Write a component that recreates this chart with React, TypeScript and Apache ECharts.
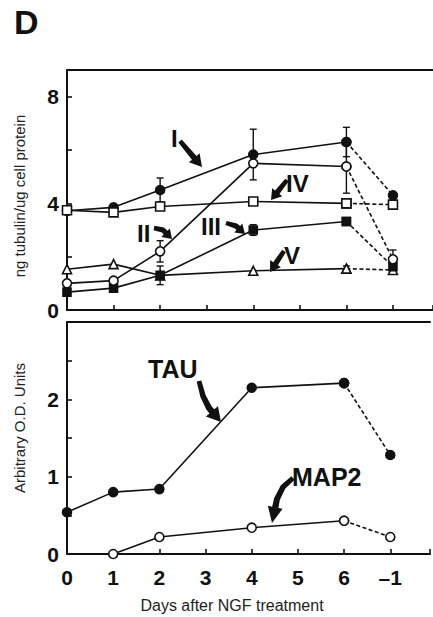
import React, { useEffect, useRef } from "react";
import * as echarts from "echarts";

// ---- data ----
const xTickLabels = ["0", "1", "2", "3", "4", "5", "6", "–1"];
const days = [0, 1, 2, 4, 6];
const withdrawPos = 7; // "-1" position on the axis

// top panel: ng tubulin / ug cell protein
const tubI = [3.72, 3.85, 4.5, 5.83, 6.3];
const tubIW = 4.3;
const tubIErr = [0, 0, 0.45, 0.95, 0.55];
const tubII = [1.0, 1.1, 2.2, 5.5, 5.38];
const tubIIW = 1.9;
const tubIIErr = [0, 0, 0.4, 0, 1.0];
const tubIIWErr = 0.35;
const tubIII = [0.67, 0.82, 1.3, 3.0, 3.32];
const tubIIIW = 1.62;
const tubIIIErr = [0, 0, 0.35, 0.2, 0.12];
const tubIV = [3.74, 3.66, 3.88, 4.07, 4.0];
const tubIVW = 3.95;
const tubV = [1.53, 1.72, 1.3, 1.47, 1.55];
const tubVW = 1.5;
const tubVErr = [0, 0, 0, 0, 0.1];

// bottom panel: arbitrary O.D. units
const tau = [0.54, 0.8, 0.84, 2.15, 2.21];
const tauW = 1.28;
const map2 = [null, 0, 0.22, 0.34, 0.43];
const map2W = 0.22;

const INK = "#111";
const FONT = "Liberation Sans, Arial, Helvetica, sans-serif";
const X_MAX = 7.86;

function arrowShape(pts: number[][], w0: number, w1: number, hl: number, hw: number): number[][] {
  const cum = [0];
  let L = 0;
  for (let i = 1; i < pts.length; i++) {
    L += Math.hypot(pts[i][0] - pts[i - 1][0], pts[i][1] - pts[i - 1][1]);
    cum.push(L);
  }
  const baseLen = L - hl;
  const shaft: { p: number[]; s: number }[] = [];
  for (let i = 0; i < pts.length; i++) if (cum[i] < baseLen) shaft.push({ p: pts[i], s: cum[i] });
  let k = 0;
  while (k < pts.length - 2 && cum[k + 1] < baseLen) k++;
  const t = (baseLen - cum[k]) / (cum[k + 1] - cum[k]);
  const base = [pts[k][0] + (pts[k + 1][0] - pts[k][0]) * t, pts[k][1] + (pts[k + 1][1] - pts[k][1]) * t];
  shaft.push({ p: base, s: baseLen });
  const left: number[][] = [];
  const right: number[][] = [];
  for (let j = 0; j < shaft.length; j++) {
    const a = shaft[Math.max(0, j - 1)].p;
    const b = shaft[Math.min(shaft.length - 1, j + 1)].p;
    let dx = b[0] - a[0];
    let dy = b[1] - a[1];
    const d = Math.hypot(dx, dy) || 1;
    dx /= d;
    dy /= d;
    const w = w0 + (w1 - w0) * (shaft[j].s / baseLen);
    const p = shaft[j].p;
    left.push([p[0] - dy * w, p[1] + dx * w]);
    right.push([p[0] + dy * w, p[1] - dx * w]);
  }
  const tip = pts[pts.length - 1];
  let hx = tip[0] - base[0];
  let hy = tip[1] - base[1];
  const hd = Math.hypot(hx, hy) || 1;
  hx /= hd;
  hy /= hd;
  return [
    ...left,
    [base[0] - hy * hw, base[1] + hx * hw],
    tip,
    [base[0] + hy * hw, base[1] - hx * hw],
    ...right.reverse(),
  ];
}

function solid(vals: (number | null)[]) {
  return days.map((d, i) => [d, vals[i]]);
}

function lineSeries(
  vals: (number | null)[],
  wVal: number,
  symbol: string,
  filled: boolean,
  axis: number,
  size = 9,
  z = 4
) {
  const itemStyle = {
    color: filled ? INK : "#fff",
    borderColor: INK,
    borderWidth: 1.6,
  };
  return [
    {
      type: "line",
      xAxisIndex: axis,
      yAxisIndex: axis,
      data: [[days[days.length - 1], vals[vals.length - 1]], [withdrawPos, wVal]],
      symbol,
      symbolSize: size,
      showSymbol: true,
      lineStyle: { color: INK, width: 1.6, type: [4, 2.5] },
      itemStyle,
      clip: false,
      z: 3,
    },
    {
      type: "line",
      xAxisIndex: axis,
      yAxisIndex: axis,
      data: solid(vals),
      symbol,
      symbolSize: size,
      showSymbol: true,
      lineStyle: { color: INK, width: 1.6 },
      itemStyle,
      clip: false,
      z,
    },
  ];
}

function errData(vals: number[], errs: number[]) {
  const out: number[][] = [];
  days.forEach((d, i) => {
    if (errs[i] > 0) out.push([d, vals[i], errs[i]]);
  });
  return out;
}

const errorSeries = (data: number[][]) => ({
  type: "custom",
  xAxisIndex: 0,
  yAxisIndex: 0,
  data,
  z: 2,
  renderItem: (params: any, api: any) => {
    const x = api.value(0);
    const y = api.value(1);
    const e = api.value(2);
    const top = api.coord([x, y + e]);
    const bot = api.coord([x, y - e]);
    const c = 3.5;
    const style = { stroke: INK, lineWidth: 1.4 };
    return {
      type: "group",
      children: [
        { type: "line", shape: { x1: top[0], y1: top[1], x2: bot[0], y2: bot[1] }, style },
        { type: "line", shape: { x1: top[0] - c, y1: top[1], x2: top[0] + c, y2: top[1] }, style },
        { type: "line", shape: { x1: bot[0] - c, y1: bot[1], x2: bot[0] + c, y2: bot[1] }, style },
      ],
    };
  },
});

function arrow(pts: number[][], w0: number, w1: number, hl: number, hw: number) {
  return {
    type: "polygon",
    shape: { points: arrowShape(pts, w0, w1, hl, hw) },
    style: { fill: INK },
    z: 100,
  };
}

function label(text: string, x: number, y: number, size: number, extra: any = {}) {
  return {
    type: "text",
    x,
    y,
    z: 100,
    style: {
      text,
      fontSize: size,
      fontWeight: "bold",
      fontFamily: FONT,
      fill: INK,
      align: "left",
      verticalAlign: "middle",
      ...extra,
    },
  };
}

export default function App() {
  const ref = useRef<HTMLDivElement>(null);
  useEffect(() => {
    document.body.style.margin = "0";
    if (!ref.current) return;
    const chart = echarts.init(ref.current, undefined, { renderer: "svg" });
    const xAxisBase = {
      type: "value",
      min: 0,
      max: X_MAX,
      interval: 1,
      axisLine: { show: true, lineStyle: { color: INK, width: 2 } },
      axisTick: { show: true, inside: true, length: 5, lineStyle: { color: INK, width: 1.6 } },
      splitLine: { show: false },
    };
    const topBorder = (gridIndex: number) => ({
      type: "value",
      gridIndex,
      min: 0,
      max: X_MAX,
      position: "top",
      axisLine: { show: true, lineStyle: { color: INK, width: 2 } },
      axisTick: { show: false },
      axisLabel: { show: false },
      splitLine: { show: false },
    });
    const yAxisBase = {
      type: "value",
      axisLine: { show: true, lineStyle: { color: INK, width: 2 } },
      axisTick: { show: true, inside: true, length: 5, lineStyle: { color: INK, width: 1.6 } },
      splitLine: { show: false },
      axisLabel: {
        color: INK,
        fontSize: 21,
        fontWeight: "bold",
        fontFamily: FONT,
        margin: 8,
      },
    };
    chart.setOption({
      animation: false,
      backgroundColor: "#fff",
      grid: [
        { left: 67, right: 0, top: 70, bottom: 307 },
        { left: 67, right: 0, top: 322, bottom: 63 },
      ],
      xAxis: [
        { ...xAxisBase, gridIndex: 0, axisLabel: { show: false } },
        {
          ...xAxisBase,
          gridIndex: 1,
          axisLabel: {
            show: true,
            color: INK,
            fontSize: 21,
            fontWeight: "bold",
            fontFamily: FONT,
            margin: 13,
            formatter: (v: number) => (Number.isInteger(v) && v < xTickLabels.length ? xTickLabels[v] : ""),
          },
        },
        topBorder(0),
        topBorder(1),
      ],
      yAxis: [
        {
          ...yAxisBase,
          gridIndex: 0,
          min: 0,
          max: 9,
          interval: 2,
          axisLabel: {
            ...yAxisBase.axisLabel,
            formatter: (v: number) => (v === 0 || v === 4 || v === 8 ? String(v) : ""),
          },
        },
        {
          ...yAxisBase,
          gridIndex: 1,
          min: 0,
          max: 3,
          interval: 0.5,
          axisLabel: {
            ...yAxisBase.axisLabel,
            formatter: (v: number) => (v === 0 || v === 1 || v === 2 ? String(v) : ""),
          },
        },
      ],
      series: [
        errorSeries(errData(tubI, tubIErr)),
        errorSeries([...errData(tubII, tubIIErr), [withdrawPos, tubIIW, tubIIWErr]]),
        errorSeries(errData(tubIII, tubIIIErr)),
        errorSeries(errData(tubV, tubVErr)),
        ...lineSeries(tubV, tubVW, "triangle", false, 0, 9, 4),
        ...lineSeries(tubIII, tubIIIW, "rect", true, 0, 8, 4),
        ...lineSeries(tubII, tubIIW, "circle", false, 0, 9, 5),
        ...lineSeries(tubI, tubIW, "circle", true, 0, 9, 5),
        ...lineSeries(tubIV, tubIVW, "rect", false, 0, 9, 6),
        ...lineSeries(map2, map2W, "circle", false, 1, 9),
        ...lineSeries(tau, tauW, "circle", true, 1, 9),
      ],
      graphic: [
        label("D", 14, 22, 34),
        {
          type: "text",
          x: 19,
          y: 196,
          rotation: Math.PI / 2,
          style: {
            text: "ng tubulin/ug cell protein",
            fontSize: 15,
            fontFamily: FONT,
            fill: "#222",
            align: "center",
            verticalAlign: "middle",
          },
        },
        {
          type: "text",
          x: 19,
          y: 428,
          rotation: Math.PI / 2,
          style: {
            text: "Arbitrary O.D. Units",
            fontSize: 15,
            fontFamily: FONT,
            fill: "#222",
            align: "center",
            verticalAlign: "middle",
          },
        },
        {
          type: "text",
          x: 232,
          y: 605,
          style: {
            text: "Days after NGF treatment",
            fontSize: 16,
            fontFamily: FONT,
            fill: "#222",
            align: "center",
            verticalAlign: "middle",
          },
        },
        label("I", 171, 138, 24),
        label("II", 137, 233, 24),
        label("III", 201, 226, 24),
        label("IV", 286, 183, 24),
        label("V", 284, 255, 24),
        label("TAU", 148, 369, 25),
        label("MAP2", 292, 477, 25),
        arrow([[180, 141], [202, 167]], 2.2, 3, 12, 7),
        arrow([[287, 180], [271, 200]], 2.2, 2.8, 10, 6.5),
        arrow([[284, 251], [270, 272]], 2.2, 2.8, 10, 6.5),
        arrow([[154, 228], [163, 230], [172, 239]], 2.2, 2.8, 9, 6),
        arrow([[226, 223], [236, 226], [245, 234]], 2.2, 2.8, 9, 6),
        arrow([[199, 381], [203, 396], [209, 408], [221, 422]], 2.4, 3.2, 14, 8),
        arrow([[293, 478], [283, 487], [277, 499], [272, 523]], 2.4, 3.2, 16, 7.5),
      ],
    });
    return () => chart.dispose();
  }, []);
  return <div ref={ref} style={{ width: 433, height: 617 }} />;
}
